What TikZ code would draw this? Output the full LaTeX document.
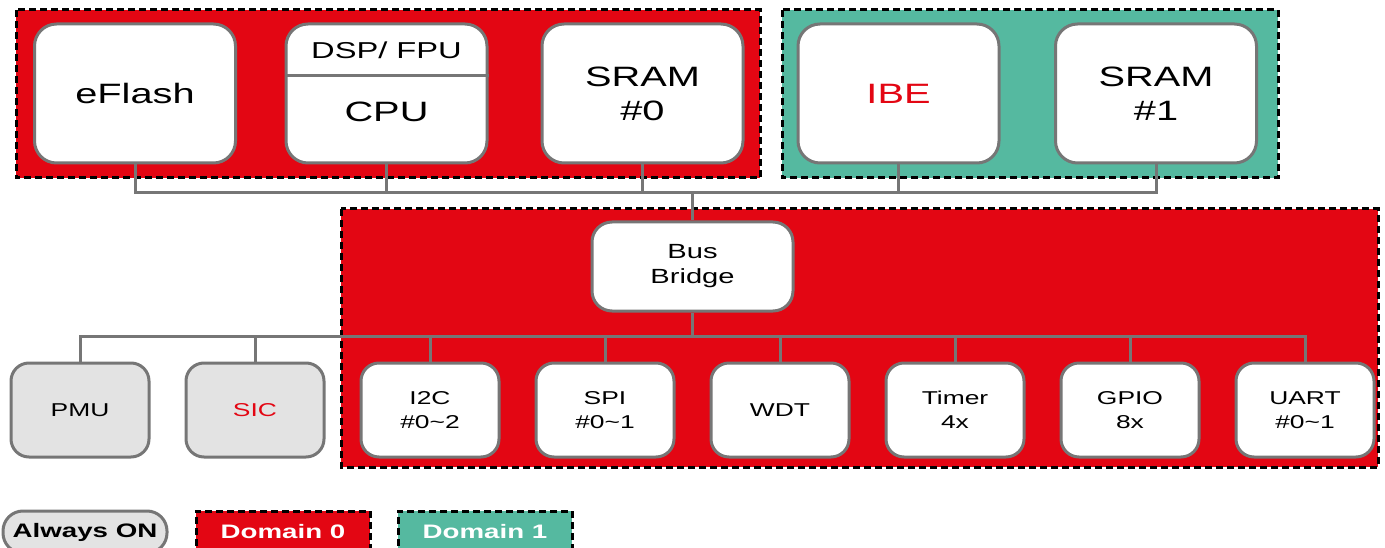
\documentclass[tikz,border=0pt]{standalone}
\usepackage{fontspec}
\setmainfont[FakeStretch=1.42]{Liberation Sans}
\definecolor{domred}{HTML}{E30613}
\definecolor{domteal}{HTML}{55B9A0}
\definecolor{boxgray}{HTML}{767676}
\definecolor{aonfill}{HTML}{E3E3E3}

\begin{document}
\begin{tikzpicture}[x=1pt, y=-1pt,
	dom0/.style={fill=domred, draw=black, line width=3pt, dash pattern=on 7pt off 4pt},
	dom1/.style={dom0, fill=domteal},
	bigbox/.style={draw=boxgray, line width=3pt, fill=white, rounded corners=22pt, minimum width=201pt, minimum height=139pt, inner sep=0pt, align=center, font=\fontsize{28}{34}\selectfont},
	periph/.style={bigbox, rounded corners=18pt, minimum width=138pt, minimum height=94pt, font=\fontsize{18.6}{24}\selectfont},
	aon/.style={periph, fill=aonfill},
	bus/.style={draw=boxgray, line width=3pt},
	legend/.style={inner sep=0pt, minimum height=42pt, font=\fontsize{19.5}{24}\selectfont\bfseries}]
	\useasboundingbox (0,0) rectangle (1385,548);
	% power domains
	\draw[dom0] (16,10) rectangle (760,178);
	\draw[dom1] (782,10) rectangle (1278,178);
	\draw[dom0] (341,209) rectangle (1378,467);
	% top row
	\node[bigbox] (eflash) at (135,93.5) {eFlash};
	\node[bigbox] (cpu) at (386.5,93.5) {};
	\draw[bus] (cpu.west |- 0,76) -- (cpu.east |- 0,76);
	\node[font=\fontsize{23}{28}\selectfont] (dsp) at (386.5,50) {DSP/ FPU};
	\node[font=\fontsize{28}{34}\selectfont] (cpulbl) at (386.5,112) {CPU};
	\node[bigbox] (sram0) at (642.5,93.5) {SRAM\\\#0};
	\node[bigbox, text=domred] (ibe) at (898.5,93.5) {IBE};
	\node[bigbox] (sram1) at (1156,93.5) {SRAM\\\#1};
	% bridge
	\node[bigbox, rounded corners=20pt, minimum height=89pt, font=\fontsize{20.5}{25}\selectfont] (bridge) at (692.5,266.5) {Bus\\Bridge};
	% bottom row
	\node[aon] (pmu) at (80,410) {PMU};
	\node[aon, text=domred] (sic) at (255,410) {SIC};
	\foreach \n/\t [count=\i from 2] in {iic/I2C\\\#0\textasciitilde 2, spi/SPI\\\#0\textasciitilde 1, wdt/WDT, timer/Timer\\4x, gpio/GPIO\\8x, uart/UART\\\#0\textasciitilde 1}
		\node[periph] (\n) at (80+175*\i,410) {\t};
	% buses
	\coordinate (bustop) at (692.5,193);
	\coordinate (busbot) at (692.5,336);
	\draw[bus] (eflash.south) |- (bustop) -| (sram1.south);
	\foreach \n in {cpu,sram0,ibe}
		\draw[bus] (\n.south) -- (\n.south |- bustop);
	\draw[bus] (bustop) -- (bridge.north);
	\draw[bus] (pmu.north) |- (busbot) -| (uart.north);
	\foreach \n in {sic,iic,spi,wdt,timer,gpio}
		\draw[bus] (\n.north) -- (\n.north |- busbot);
	\draw[bus] (bridge.south) -- (busbot);
	% legend
	\node[legend, draw=boxgray, line width=3pt, fill=aonfill, rounded corners=20pt, minimum width=164pt] (lgaon) at (85,532) {Always ON};
	\node[legend, dom0, text=white, minimum width=174pt] (lgdom0) at (283,532) {Domain 0};
	\node[legend, dom1, text=white, minimum width=174pt] (lgdom1) at (485,532) {Domain 1};
\end{tikzpicture}
\end{document}
